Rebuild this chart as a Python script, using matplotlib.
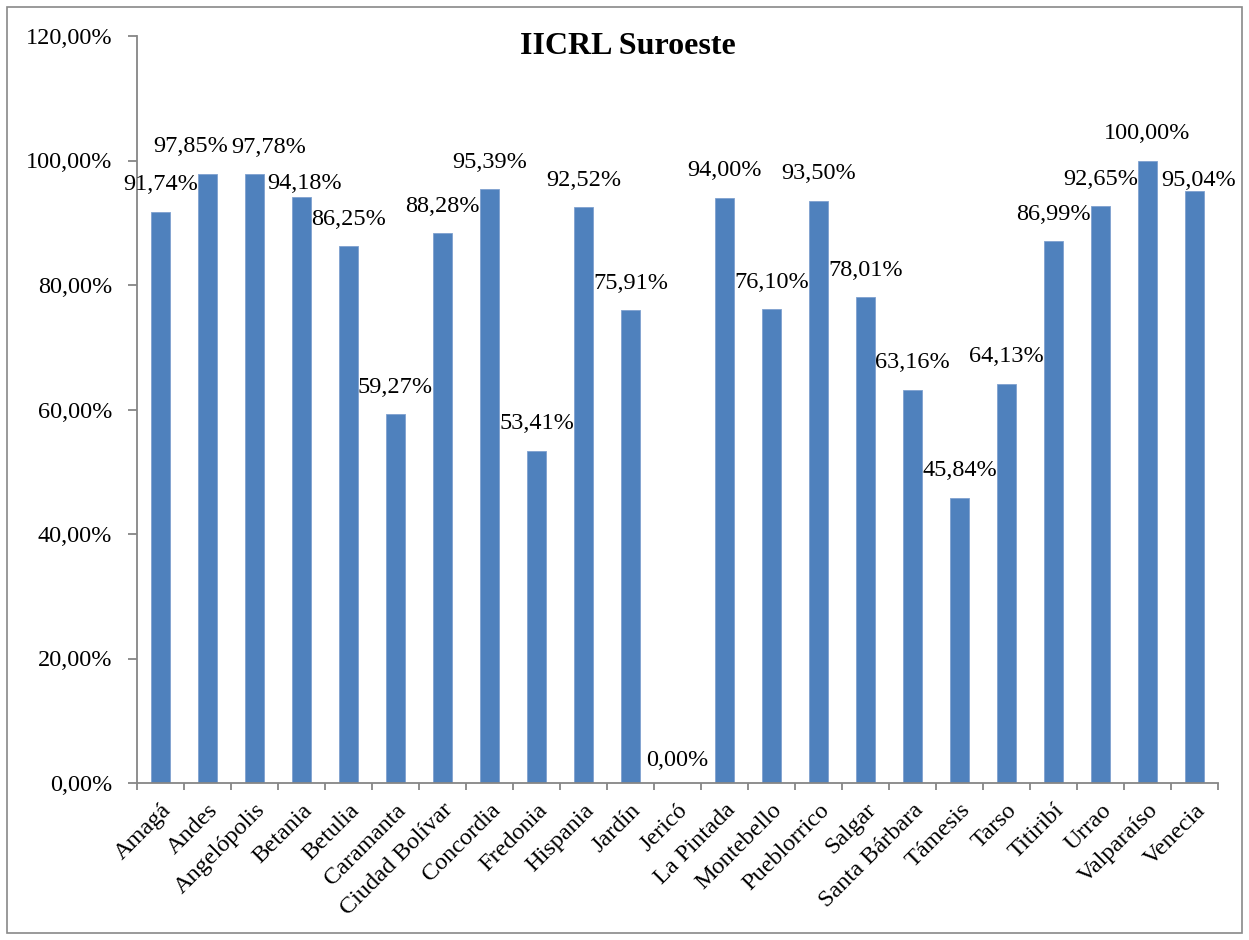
import matplotlib
matplotlib.use("Agg")
import matplotlib.pyplot as plt
from matplotlib.patches import Rectangle
import numpy as np

# ---- data ----
municipios = ["Amagá", "Andes", "Angelópolis", "Betania", "Betulia", "Caramanta",
              "Ciudad Bolívar", "Concordia", "Fredonia", "Hispania", "Jardín", "Jericó",
              "La Pintada", "Montebello", "Pueblorrico", "Salgar", "Santa Bárbara",
              "Támesis", "Tarso", "Titiribí", "Urrao", "Valparaíso", "Venecia"]
valores = [91.74, 97.85, 97.78, 94.18, 86.25, 59.27, 88.28, 95.39, 53.41, 92.52,
           75.91, 0.00, 94.00, 76.10, 93.50, 78.01, 63.16, 45.84, 64.13, 86.99,
           92.65, 100.00, 95.04]
yticks = [0, 20, 40, 60, 80, 100, 120]
titulo = "IICRL Suroeste"

# label offsets (pixels) relative to default position above bar
label_dx = {1: -17, 2: 14, 3: 3, 22: 4}
label_dy = {3: 14, 22: 16, 11: 4}

plt.rcParams['font.family'] = ['Liberation Serif', 'DejaVu Serif']

DPI = 100
fig = plt.figure(figsize=(12.49, 9.40), dpi=DPI)
W, H = 1249, 940
ax_l, ax_r, ax_b, ax_t = 137, 1218, 783, 36
ax = fig.add_axes([ax_l / W, 1 - ax_b / H, (ax_r - ax_l) / W, (ax_b - ax_t) / H])

x = np.arange(len(municipios))
ax.bar(x, valores, width=0.4, color="#4F81BD", edgecolor="#7FA1CF", linewidth=0.6, zorder=2)
ax.set_xlim(-0.5, len(municipios) - 0.5)
ax.set_ylim(0, 120)

axis_gray = "#868686"
for s in ["top", "right"]:
    ax.spines[s].set_visible(False)
for s in ["left", "bottom"]:
    ax.spines[s].set_color(axis_gray)
    ax.spines[s].set_linewidth(1.3)

ax.set_yticks(yticks)
ax.set_yticklabels([f"{v:.2f}".replace(".", ",") + "%" for v in yticks], fontsize=17.5)
ax.tick_params(axis="y", direction="out", length=6.5, width=1.3, color=axis_gray, pad=11.5)

# x ticks at category boundaries, labels at centers
ax.set_xticks(np.arange(len(municipios) + 1) - 0.5)
ax.set_xticklabels([])
ax.tick_params(axis="x", direction="out", length=5, width=1.3, color=axis_gray)
ax.set_xticks(x, minor=True)
ax.set_xticklabels(municipios, minor=True, rotation=45, ha="right", va="top",
                   rotation_mode="anchor", fontsize=17.5)
ax.tick_params(axis="x", which="minor", length=0, pad=12)

# value labels
px2pt = 72.0 / DPI
for i, v in enumerate(valores):
    dx = label_dx.get(i, 0)
    dy = -27 + label_dy.get(i, 0)
    ax.annotate(f"{v:.2f}".replace(".", ",") + "%", xy=(x[i], v),
                xytext=(dx * px2pt, -dy * px2pt), textcoords="offset points",
                ha="center", va="center", fontsize=17.5, color="black", zorder=3)

fig.text(628 / W, 1 - 46 / H, titulo, ha="center", va="center",
         fontsize=23, fontweight="bold")

# chart area border
fig.patches.append(Rectangle((7 / W, 7 / H), (1242 - 7) / W, (933 - 7) / H,
                             transform=fig.transFigure, fill=False,
                             edgecolor="#898989", linewidth=1.2))

fig.savefig("out.png", dpi=DPI)
